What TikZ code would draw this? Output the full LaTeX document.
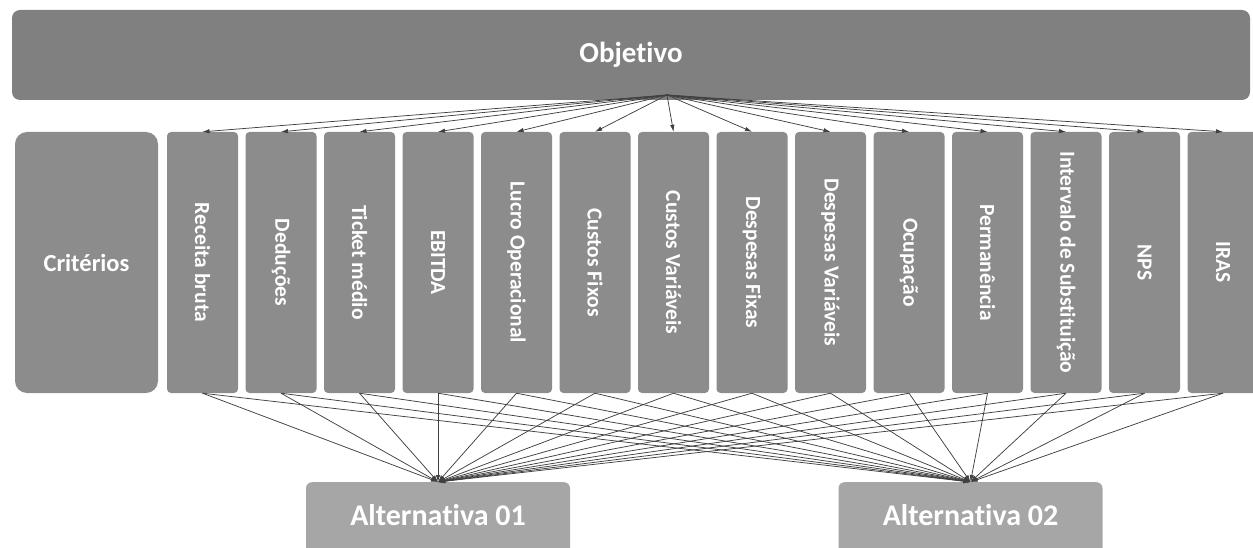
\documentclass[tikz,border=0pt]{standalone}
\usepackage{fontspec}
\setmainfont{Carlito}[Ligatures=CommonOff]
\usepackage{graphicx}
\usetikzlibrary{arrows.meta, positioning, calc}

\definecolor{objgray}{HTML}{808080}
\definecolor{critgray}{HTML}{8C8C8C}
\definecolor{altgray}{HTML}{A6A6A6}
\definecolor{linegray}{HTML}{404040}

\begin{document}
\begin{tikzpicture}[x=1pt, y=-1pt,
        objbox/.style={rectangle, rounded corners=8pt, fill=objgray, text=white, minimum width=1238pt, minimum height=90pt, font=\fontsize{29}{34}\selectfont\bfseries},
        critbox/.style={rectangle, rounded corners=4pt, fill=critgray, text=white, minimum width=71pt, minimum height=261pt, inner sep=0pt, font=\fontsize{21.5}{25}\selectfont\bfseries},
        headbox/.style={critbox, rounded corners=12pt, minimum width=143pt, font=\fontsize{24.5}{28}\selectfont\bfseries},
        altbox/.style={rectangle, rounded corners=6pt, fill=altgray, text=white, minimum width=264pt, inner xsep=0pt, inner ysep=0pt, text height=43pt, text depth=47pt, anchor=north, font=\fontsize{30}{36}\selectfont\bfseries},
        link/.style={draw=linegray, line width=0.75pt, -{Latex[length=7pt,width=4.5pt]}}
    ]
        \useasboundingbox (0,0) rectangle (1253,548);
        \clip (0,0) rectangle (1253,548);

        % Objetivo
        \node[objbox] (obj) at (631,55) {Objetivo};
        \coordinate (src) at (667,95);

        % Criterios
        \node[headbox] (crit) at (86.5,262.5) {Critérios};
        \foreach \name [count=\i] in {Receita bruta, Deduções, Ticket médio, EBITDA, Lucro Operacional, Custos Fixos, Custos Variáveis, Despesas Fixas, Despesas Variáveis, Ocupação, Permanência, Intervalo de Substituição, NPS, IRAS}
            \node[critbox] (c\i) at ({124+78.5*\i},262.5) {\rotatebox{-90}{\name}};

        % Alternativas
        \node[altbox] (a1) at (438,482) {Alternativa 01};
        \node[altbox] (a2) at (970.5,482) {Alternativa 02};

        \foreach \i in {1,...,14} {
            \draw[link] (src) -- (c\i.north);
            \draw[link] (c\i.south) -- (a1.north);
            \draw[link] (c\i.south) -- (a2.north);
        }
    \end{tikzpicture}
\end{document}
